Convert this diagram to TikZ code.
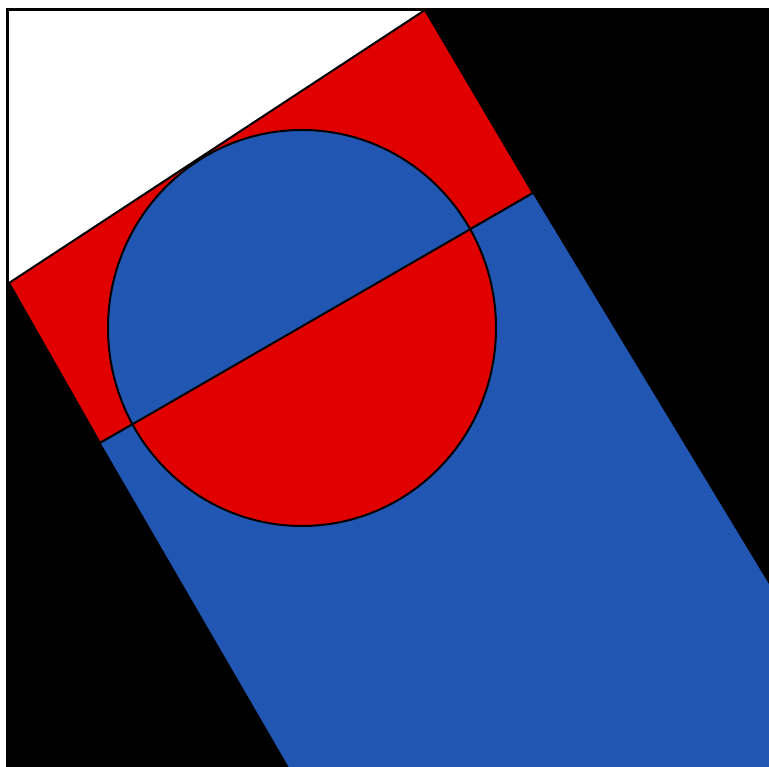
\documentclass[tikz,border=0pt]{standalone}
\usetikzlibrary{calc}
\definecolor{fred}{RGB}{224,0,0}
\definecolor{fblue}{RGB}{33,86,178}
\begin{document}
\begin{tikzpicture}[x=1pt,y=1pt,
  edge/.style={draw=black,line width=2pt,line join=round},
  frame/.style={draw=black,line width=3pt}]
\useasboundingbox (0,0) rectangle (769,767);
\begin{scope}
\clip (0,0) rectangle (769,767);
% points
\coordinate (tl) at (7,757);
\coordinate (rt) at (425,757);
\coordinate (lf) at (9,484);
\coordinate (rr) at (533,574);
\coordinate (bl) at (100,324);
\coordinate (bb) at (288,0);
\coordinate (br) at (769,184);
\coordinate (bbx) at ($(bl)!1.05!(bb)$);
\coordinate (brx) at ($(rr)!1.05!(br)$);
% background
\fill[black] (7,-5) rectangle (780,757);
% white triangle
\fill[white] (tl) -- (rt) -- (lf) -- cycle;
% red quadrilateral
\path[edge,fill=fred] (lf) -- (rt) -- (rr) -- (bl) -- cycle;
% blue band
\path[fill=fblue] (bl) -- (rr) -- (brx) -- (800,-20) -- (bbx) -- cycle;
\draw[black,line width=1pt] (rr) -- (brx);
\draw[black,line width=1pt] (bl) -- (bbx);
% circle halves
\coordinate (c) at (302,439);
\fill[fblue] (c) ellipse[x radius=194,y radius=198];
\begin{scope}
\clip ($(bl)!-0.5!(rr)$) -- ($(rr)!-0.5!(bl)$) -- (900,-100) -- (-100,-100) -- cycle;
\fill[fred] (c) ellipse[x radius=194,y radius=198];
\end{scope}
\draw[black,line width=2pt] (c) ellipse[x radius=194,y radius=198];
\draw[edge] (bl) -- (rr);
% frame
\draw[frame] (7,-10) -- (tl) -- (780,757);
\end{scope}
\end{tikzpicture}
\end{document}
